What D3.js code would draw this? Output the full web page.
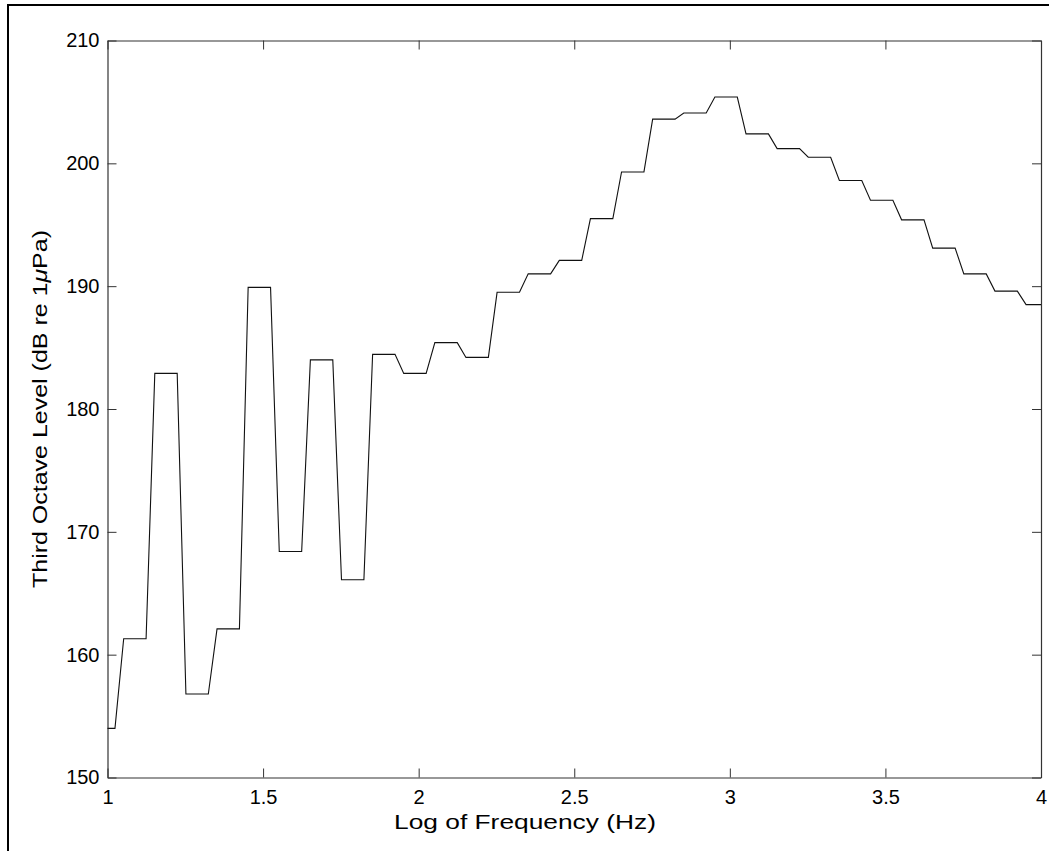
<!DOCTYPE html>
<html>
<head>
<meta charset="utf-8">
<script src="https://cdn.jsdelivr.net/npm/d3@7"></script>
<style>
  html, body { margin: 0; padding: 0; background: #fff; }
  svg { display: block; }
  text { font-family: "Liberation Sans", Arial, Helvetica, sans-serif; fill: #000; }
</style>
</head>
<body>
<script>
// ---- data (third-octave bands, log10 of frequency) ----
const bandLog = [1.0, 1.1, 1.2, 1.3, 1.4, 1.5, 1.6, 1.7, 1.8, 1.9,
                 2.0, 2.1, 2.2, 2.3, 2.4, 2.5, 2.6, 2.7, 2.8, 2.9,
                 3.0, 3.1, 3.2, 3.3, 3.4, 3.5, 3.6, 3.7, 3.8, 3.9, 4.0];
const levels = [154.0, 161.3, 182.9, 156.8, 162.1, 189.9, 168.4, 184.0, 166.1, 184.45,
                182.9, 185.4, 184.2, 189.5, 191.0, 192.1, 195.5, 199.3, 203.6, 204.1,
                205.4, 202.4, 201.2, 200.5, 198.6, 197.0, 195.4, 193.1, 191.0, 189.6, 188.5];
const xTicks = [1, 1.5, 2, 2.5, 3, 3.5, 4];
const xTickLabels = ["1", "1.5", "2", "2.5", "3", "3.5", "4"];
const yTicks = [150, 160, 170, 180, 190, 200, 210];
const yTickLabels = ["150", "160", "170", "180", "190", "200", "210"];
const xDomain = [1, 4];
const yDomain = [150, 210];

// ---- layout ----
const W = 1049, H = 851;
const mLeft = 107.5, mRight = 1041, mTop = 40.5, mBottom = 777.5;
const tickLen = 9;
const fontSize = 20;
const labelSize = 21;

const svg = d3.select("body").append("svg").attr("width", W).attr("height", H);

// outer figure frame (left & top edges visible)
svg.append("line").attr("x1", 8).attr("y1", 5).attr("x2", 8).attr("y2", H)
  .attr("stroke", "#000").attr("stroke-width", 2);
svg.append("line").attr("x1", 7).attr("y1", 5).attr("x2", 1049).attr("y2", 5)
  .attr("stroke", "#000").attr("stroke-width", 2);

const x = d3.scaleLinear().domain(xDomain).range([mLeft, mRight]);
const y = d3.scaleLinear().domain(yDomain).range([mBottom, mTop]);

// axes with inward ticks on all four sides
const fmtX = (d) => xTickLabels[xTicks.indexOf(d)];
const fmtY = (d) => yTickLabels[yTicks.indexOf(d)];

const gBottom = svg.append("g").attr("transform", `translate(0,${mBottom})`)
  .call(d3.axisBottom(x).tickValues(xTicks).tickFormat(fmtX).tickSizeInner(-tickLen).tickSizeOuter(0).tickPadding(12));
const gTop = svg.append("g").attr("transform", `translate(0,${mTop})`)
  .call(d3.axisTop(x).tickValues(xTicks).tickFormat("").tickSizeInner(-tickLen).tickSizeOuter(0));
const gLeft = svg.append("g").attr("transform", `translate(${mLeft},0)`)
  .call(d3.axisLeft(y).tickValues(yTicks).tickFormat(fmtY).tickSizeInner(-tickLen).tickSizeOuter(0).tickPadding(8));
const gRight = svg.append("g").attr("transform", `translate(${mRight},0)`)
  .call(d3.axisRight(y).tickValues(yTicks).tickFormat("").tickSizeInner(-tickLen).tickSizeOuter(0));

[gBottom, gTop, gLeft, gRight].forEach(g => {
  g.selectAll("path.domain").attr("stroke", "#333").attr("stroke-width", 1.2);
  g.selectAll(".tick line").attr("stroke", "#333").attr("stroke-width", 1);
  g.selectAll("text").attr("font-size", fontSize).attr("font-family", "'Liberation Sans', Arial, sans-serif").attr("fill", "#000");
});

// stepped third-octave curve: each band held flat, linear ramp between bands
const pts = [];
bandLog.forEach((c, i) => {
  const a = Math.max(xDomain[0], c - 0.048);
  const b = Math.min(xDomain[1], c + 0.024);
  pts.push([a, levels[i]]);
  pts.push([b, levels[i]]);
});
const line = d3.line().x(d => x(d[0])).y(d => y(d[1]));
svg.append("path").datum(pts).attr("d", line)
  .attr("fill", "none").attr("stroke", "#111").attr("stroke-width", 1.1)
  .attr("stroke-linejoin", "miter");

// axis labels
svg.append("text").attr("x", 525).attr("y", 829)
  .attr("text-anchor", "middle").attr("font-size", labelSize)
  .attr("textLength", 262).attr("lengthAdjust", "spacingAndGlyphs")
  .text("Log of Frequency (Hz)");

const yl = svg.append("text")
  .attr("transform", `translate(47,${(mTop + mBottom) / 2}) rotate(-90)`)
  .attr("text-anchor", "middle").attr("font-size", labelSize)
  .attr("textLength", 358).attr("lengthAdjust", "spacingAndGlyphs");
yl.append("tspan").text("Third Octave Level (dB re 1");
yl.append("tspan").attr("font-style", "italic").text("\u03BC");
yl.append("tspan").text("Pa)");
</script>
</body>
</html>
